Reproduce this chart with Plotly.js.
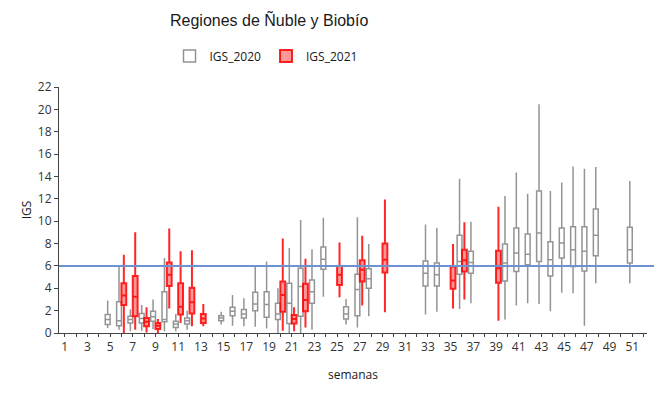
<!DOCTYPE html>
<html>
<head>
<meta charset="utf-8">
<script src="https://cdn.plot.ly/plotly-3.0.1.min.js"></script>
<style>html,body{margin:0;padding:0;background:#fff;}#chart{width:654px;height:405px;}</style>
</head>
<body>
<div id="chart"></div>
<script>
// ---- Data ----
const weeks2020 = [5,6,7,8,9,10,11,12,15,16,17,18,19,20,21,22,23,24,26,27,28,33,34,36,37,40,41,42,43,44,45,46,47,48,51];
const low2020 = [0.45,0.3,0.15,0.2,0.35,0.15,0.15,0.3,0.75,0.65,0.6,0.55,0.4,0,0,0,0.3,3.25,0.75,0.5,1.5,1.65,1.9,2.15,2.65,1.2,2.45,2.65,2.6,1.95,3.6,3.55,0.65,4.45,4.45];
const q1_2020 = [0.75,0.65,0.9,0.9,1.05,1.0,0.5,0.8,1.1,1.55,1.35,2.0,1.4,1.2,0.85,1.5,2.65,5.7,1.25,1.55,4.0,4.2,4.2,5.25,5.35,4.65,5.5,6.1,6.4,5.1,6.7,5.95,5.55,6.9,6.25];
const med2020 = [1.2,1.1,1.2,1.3,1.45,1.2,0.8,1.1,1.35,1.95,1.7,2.6,2.55,1.7,2.65,4.15,3.7,6.6,1.7,3.9,4.85,5.35,5.2,6.4,6.3,6.25,7.15,7.05,8.95,6.55,8.05,7.45,7.3,8.75,7.45];
const q3_2020 = [1.65,2.8,1.5,1.75,1.95,3.7,1.05,1.35,1.55,2.3,2.1,3.65,3.7,2.65,4.45,5.8,4.75,7.7,2.35,5.25,5.75,6.45,6.25,8.75,7.3,7.95,9.4,8.85,12.7,8.15,9.4,9.5,9.5,11.1,9.45];
const high2020 = [2.9,5.9,2.1,2.5,3.0,6.7,1.7,2.0,1.9,3.4,3.1,6.0,6.4,4.0,7.6,10.1,7.5,10.3,3.05,10.35,7.95,9.7,9.4,13.8,9.95,12.25,14.35,12.45,20.45,12.7,13.45,14.9,14.7,14.85,13.6];

const weeks2021 = [6,7,8,9,10,11,12,13,20,21,22,25,27,29,35,36,39];
const low2021 = [0,0.3,0.05,0,2.2,0.9,0.6,0.6,0.2,0.15,0.5,3.2,2.45,1.85,2.2,3.0,1.1];
const q1_2021 = [2.5,1.5,0.6,0.35,4.2,1.65,1.75,0.9,1.9,0.85,1.95,4.3,4.6,5.4,3.95,5.5,4.5];
const med2021 = [3.35,3.25,1.0,0.65,5.2,2.35,2.75,1.3,3.4,1.25,2.95,5.2,5.65,6.55,4.7,6.5,5.8];
const q3_2021 = [4.45,5.1,1.35,0.9,6.3,4.45,4.05,1.7,4.6,1.6,4.4,6.0,6.5,8.0,5.95,7.45,7.35];
const high2021 = [7.0,9.0,2.3,1.25,9.35,7.3,7.4,2.6,8.45,2.3,6.65,8.1,8.7,11.95,7.95,9.9,11.3];

const seriesNames = ['IGS_2020', 'IGS_2021'];
const threshold = 6;

const chartTitle = 'Regiones de Ñuble y Biobío';
const xTitle = 'semanas';
const yTitle = 'IGS';

// ---- Traces ----
const titleFont = 'Liberation Sans, Arial, sans-serif';
const sans = 'Open Sans, Noto Sans, DejaVu Sans, sans-serif';

const trace2020 = {
  type: 'box', name: seriesNames[0],
  x: weeks2020, q1: q1_2020, median: med2020, q3: q3_2020,
  lowerfence: low2020, upperfence: high2020,
  boxpoints: false, whiskerwidth: 0,
  line: {color: 'rgb(148,148,148)', width: 1.5},
  fillcolor: 'rgba(255,255,255,0)'
};
const trace2021 = {
  type: 'box', name: seriesNames[1],
  x: weeks2021, q1: q1_2021, median: med2021, q3: q3_2021,
  lowerfence: low2021, upperfence: high2021,
  boxpoints: false, whiskerwidth: 0,
  line: {color: 'rgba(255,0,0,0.85)', width: 2},
  fillcolor: 'rgba(255,0,0,0.4)'
};

const layout = {
  width: 654, height: 405,
  margin: {l: 59, r: 7, t: 87, b: 72, pad: 0},
  paper_bgcolor: '#fff', plot_bgcolor: '#fff',
  boxmode: 'group', boxgap: 0.15, boxgroupgap: 0,
  title: {text: chartTitle, x: 0.4116, xref: 'container', xanchor: 'center',
          y: 1 - 20/405, yref: 'container', yanchor: 'middle',
          font: {family: titleFont, size: 16, color: '#1a1a1a'}},
  showlegend: true,
  legend: {orientation: 'h', xref: 'container', yref: 'container',
           x: 266/654, xanchor: 'center', y: 1 - 56/405, yanchor: 'middle',
           font: {family: sans, size: 12, color: '#1a1a1a'},
           itemwidth: 30, tracegroupgap: 0, bgcolor: 'rgba(0,0,0,0)'},
  xaxis: {
    type: 'linear', range: [0.5, 52.3], tick0: 1, dtick: 2,
    ticks: 'outside', ticklen: 3, tickwidth: 1, tickcolor: '#444',
    minor: {dtick: 1, tick0: 0, ticks: 'outside', ticklen: 3, tickcolor: '#444', showgrid: false},
    showline: true, linecolor: '#444', linewidth: 1,
    showgrid: false, zeroline: false,
    tickfont: {family: sans, size: 12, color: '#333'},
    title: {text: xTitle, standoff: 16, font: {family: sans, size: 12, color: '#1a1a1a'}},
    automargin: false
  },
  yaxis: {
    range: [0, 22], tick0: 0, dtick: 2,
    ticks: 'outside', ticklen: 4, tickwidth: 1, tickcolor: '#444',
    showline: true, linecolor: '#444', linewidth: 1,
    showgrid: false, zeroline: false,
    tickfont: {family: sans, size: 12, color: '#333'},
    title: {text: yTitle, standoff: 3, font: {family: sans, size: 12, color: '#1a1a1a'}},
    automargin: false
  },
  shapes: [{
    type: 'line', xref: 'paper', yref: 'y',
    x0: 0, x1: 1.0125, y0: threshold, y1: threshold,
    line: {color: 'rgb(110,145,210)', width: 2}, layer: 'above'
  }]
};

Plotly.newPlot('chart', [trace2020, trace2021], layout, {displayModeBar: false, staticPlot: true});
</script>
</body>
</html>
